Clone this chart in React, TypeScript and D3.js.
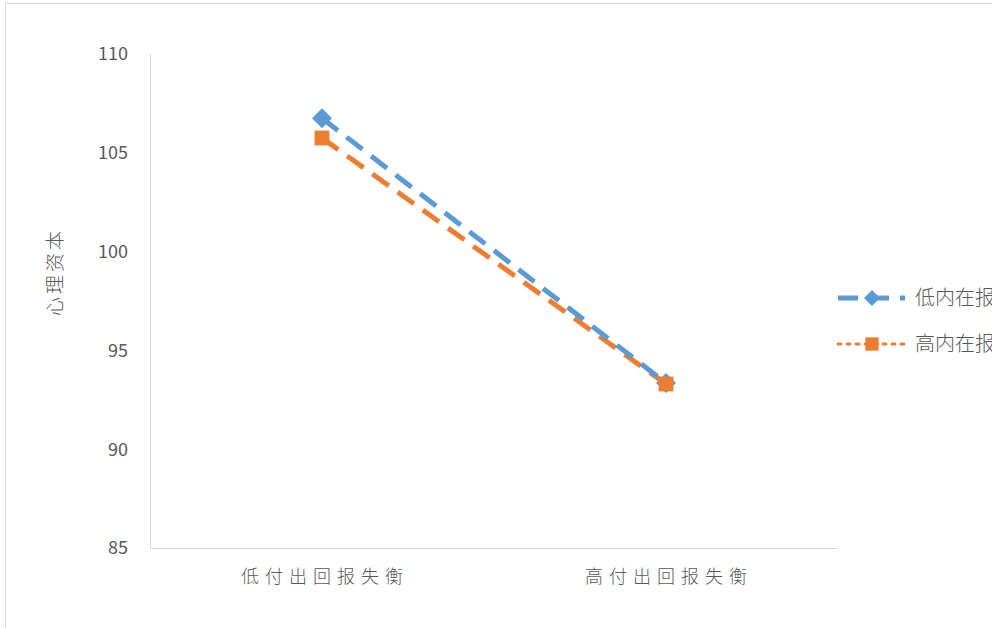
import React from "react";
import * as d3 from "d3";

const categories = ["低付出回报失衡", "高付出回报失衡"];
const seriesNames = ["低内在报酬", "高内在报酬"];
const lowValues = [106.75, 93.35];
const highValues = [105.75, 93.3];
const yTicks = [85, 90, 95, 100, 105, 110];
const yTitle = "心理资本";

const W = 992, H = 628;
const FONT = "'Noto Sans CJK SC', 'Noto Sans', sans-serif";

export default function App() {
  const x = d3.scalePoint<string>().domain(categories).range([150, 838]).padding(0.5);
  const y = d3.scaleLinear().domain([85, 110]).range([548, 54]);
  const line = d3.line<number>().x((_, i) => x(categories[i])!).y((d) => y(d));
  const blue = "#5b9bd5";
  const orange = "#ed7d31";
  const diamond = "M0,-10L10,0L0,10L-10,0Z";
  const square = d3.symbol().type(d3.symbolSquare).size(220)();
  return (
    <div style={{ position: "fixed", left: 0, top: 0 }}>
      <svg width={W} height={H} style={{ display: "block", background: "#fff" }}>
        <rect x={5.5} y={3.5} width={1100} height={700} fill="#fff" stroke="#d9d9d9" strokeWidth={1} />
        <line x1={150.5} x2={150.5} y1={y(110)} y2={y(85)} stroke="#d9d9d9" strokeWidth={1} />
        <line x1={150} x2={838} y1={y(85) + 0.5} y2={y(85) + 0.5} stroke="#d9d9d9" strokeWidth={1} />
        {yTicks.map((t) => (
          <text key={t} x={128} y={y(t)} dy="0.35em" textAnchor="end" fontSize={18} fill="#595959" fontFamily={FONT}>
            {t}
          </text>
        ))}
        {categories.map((c) => (
          <text key={c} x={x(c)! + 3} y={583} textAnchor="middle" fontSize={18} fill="#595959" fontFamily={FONT} fontWeight={300} letterSpacing={6}>
            {c}
          </text>
        ))}
        <text transform={`translate(62,272) rotate(-90)`} textAnchor="middle" fontSize={19} fill="#595959" fontFamily={FONT} fontWeight={300} letterSpacing={3}>
          {yTitle}
        </text>
        <path d={line(highValues)!} fill="none" stroke={orange} strokeWidth={5} strokeDasharray="20 11" />
        <path d={line(lowValues)!} fill="none" stroke={blue} strokeWidth={5} strokeDasharray="20 11" />
        {lowValues.map((v, i) => (
          <path key={"l" + i} d={diamond} transform={`translate(${x(categories[i])},${y(v)})`} fill={blue} />
        ))}
        {highValues.map((v, i) => (
          <path key={"h" + i} d={square} transform={`translate(${x(categories[i])},${y(v)})`} fill={orange} />
        ))}
        {/* legend */}
        <g transform="translate(838,298)">
          <line x1={0} x2={67} y1={0} y2={0} stroke={blue} strokeWidth={5} strokeDasharray="20 11" />
          <path d={diamond} transform="translate(34,0) scale(0.8)" fill={blue} />
          <text x={77} y={0} dy="0.35em" fontSize={20} fill="#595959" fontFamily={FONT} fontWeight={300}>{seriesNames[0]}</text>
        </g>
        <g transform="translate(838,344)">
          <line x1={0} x2={67} y1={0} y2={0} stroke={orange} strokeWidth={3} strokeDasharray="3 6" strokeLinecap="round" />
          <path d={square} transform="translate(34,0) scale(0.9)" fill={orange} />
          <text x={77} y={0} dy="0.35em" fontSize={20} fill="#595959" fontFamily={FONT} fontWeight={300}>{seriesNames[1]}</text>
        </g>
      </svg>
    </div>
  );
}
